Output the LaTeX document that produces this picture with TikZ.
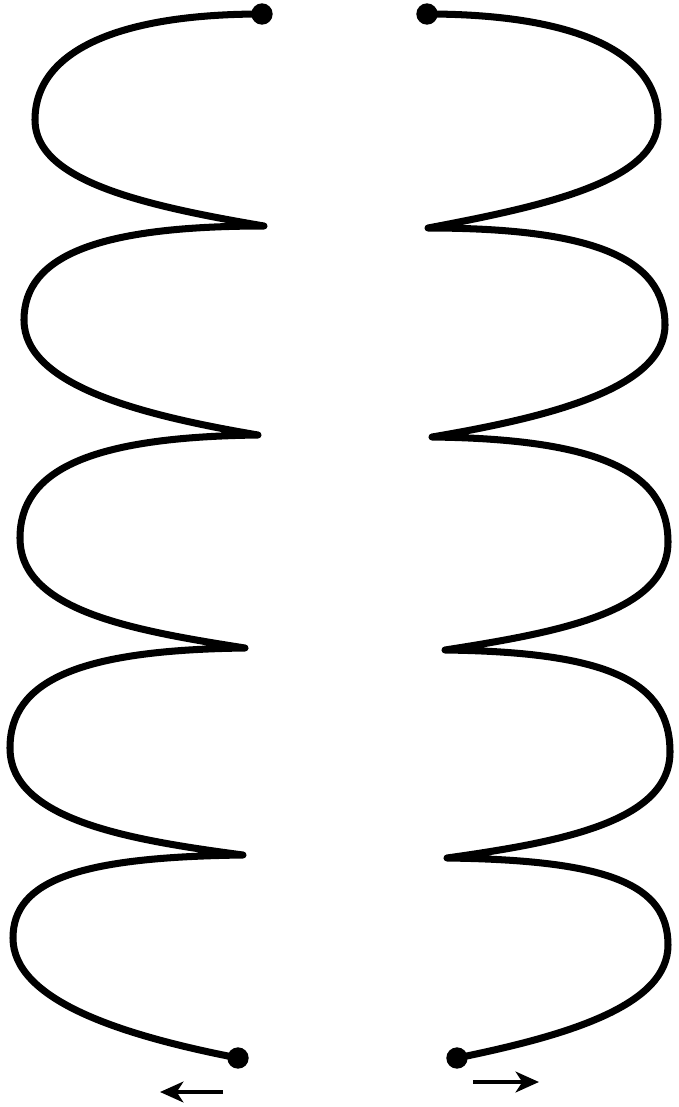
\documentclass[tikz,border=0pt]{standalone}
\usepackage{tikz}
\usetikzlibrary{arrows.meta}

\begin{document}
\begin{tikzpicture}[x=0.03cm,y=-0.03cm,
    coil/.style={line width=6pt,line cap=round,line join=round},
    enddot/.style={circle,fill=black,inner sep=0pt,minimum size=0.64cm},
    pull/.style={line width=3.6pt,-{Stealth[length=0.7cm,width=0.62cm,inset=0.2cm]}}]
  \useasboundingbox (0,0) rectangle (679,1107);

  %% End points of the two coils
  \node[enddot] (lt) at (262,14) {};
  \node[enddot] (lb) at (238,1058) {};
  \node[enddot] (rt) at (427,14) {};
  \node[enddot] (rb) at (457,1058) {};

  %% Left coil
  \draw[coil] (lt.center)
     .. controls (120,14) and (35,50) .. (35,120)
     .. controls (35,180) and (140,205) .. (264,226)
     .. controls (100,226) and (24,255) .. (24,320)
     .. controls (24,385) and (140,415) .. (258,435)
     .. controls (90,437) and (20,470) .. (20,538)
     .. controls (20,610) and (130,630) .. (245,648)
     .. controls (80,650) and (10,680) .. (10,748)
     .. controls (10,820) and (130,840) .. (243,855)
     .. controls (80,857) and (13,880) .. (13,938)
     .. controls (13,1000) and (120,1035) .. (lb.center);

  %% Right coil
  \draw[coil] (rt.center)
     .. controls (570,14) and (658,50) .. (658,120)
     .. controls (658,180) and (550,205) .. (428,228)
     .. controls (590,228) and (665,257) .. (665,325)
     .. controls (665,388) and (550,417) .. (432,437)
     .. controls (600,439) and (668,472) .. (668,542)
     .. controls (668,612) and (560,632) .. (445,650)
     .. controls (610,652) and (670,682) .. (670,752)
     .. controls (670,822) and (560,842) .. (447,858)
     .. controls (610,860) and (668,885) .. (668,945)
     .. controls (668,1005) and (570,1035) .. (rb.center);

  %% Pulling directions
  \coordinate (la) at (223,1092);
  \coordinate (lh) at (160,1092);
  \coordinate (ra) at (473,1082);
  \coordinate (rh) at (539,1082);
  \draw[pull] (la) -- (lh);
  \draw[pull] (ra) -- (rh);
\end{tikzpicture}
\end{document}
